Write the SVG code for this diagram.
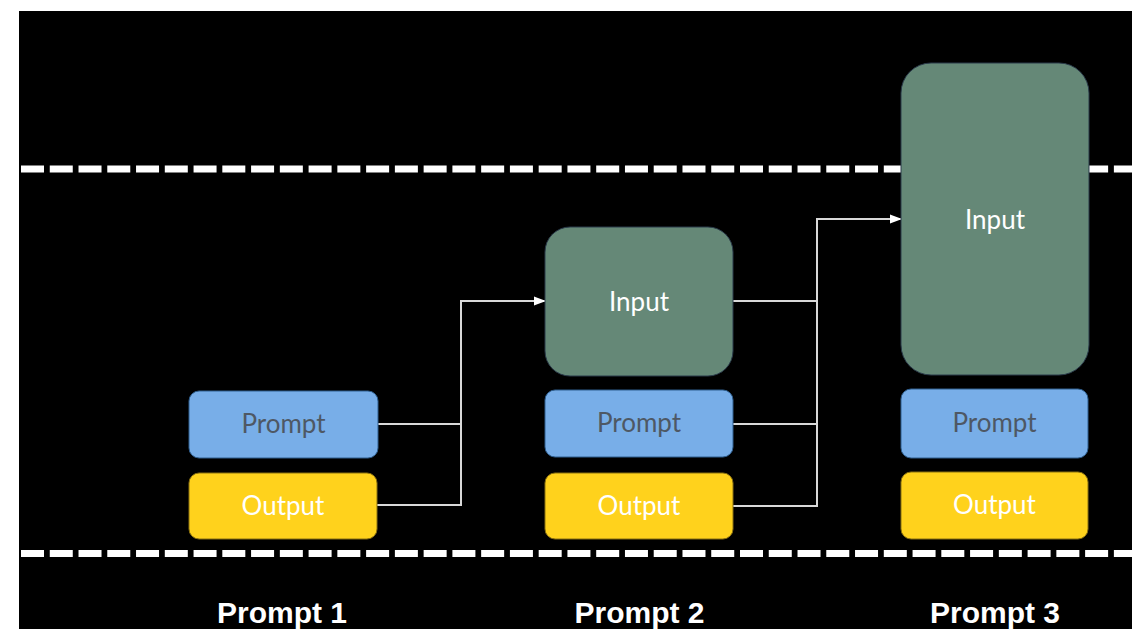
<svg xmlns="http://www.w3.org/2000/svg" width="1132" height="629" viewBox="0 0 1132 629">
<style>
.bg{fill:#000}
.dash{stroke:#fff;stroke-width:7;stroke-dasharray:23 5.76;fill:none}
.inp{fill:#658877;stroke:#2a3a4a;stroke-width:1}
.pr{fill:#78aee8;stroke:#2f5f8f;stroke-width:1}
.out{fill:#ffd21c;stroke:#8a7010;stroke-width:1}
.t{font-family:Lato,"Open Sans",sans-serif;font-size:26px;text-anchor:middle}
.tw{fill:#fff}
.tp{fill:#4e5864}
.lbl{font-family:"Liberation Sans",Arial,sans-serif;font-weight:bold;font-size:30px;fill:#fff;text-anchor:middle}
.conn{stroke:#d9d9d9;stroke-width:2;fill:none}
</style>
<defs>
<marker id="arr" markerWidth="12" markerHeight="12" refX="11" refY="6" orient="auto" markerUnits="userSpaceOnUse">
<path d="M0,1.5 L12,6 L0,10.5 Z" fill="#fff"/>
</marker>
</defs>
<rect x="0" y="0" width="1132" height="629" fill="#fff"/>
<rect class="bg" x="19" y="11" width="1113" height="618"/>
<g id="dashes">
<line class="dash" x1="21" y1="169" x2="1132" y2="169"/>
<line class="dash" x1="21" y1="553.5" x2="1132" y2="553.5"/>
</g>
<g id="connectors">
<path class="conn" d="M378,424 H461"/>
<path class="conn" d="M377,505 H461 V301 H545" marker-end="url(#arr)"/>
<path class="conn" d="M733,301 H817"/>
<path class="conn" d="M733,424 H817"/>
<path class="conn" d="M733,506 H817 V219 H901" marker-end="url(#arr)"/>
</g>
<g id="prompt1">
<rect class="pr" x="189" y="391" width="189" height="67" rx="10"/>
<text class="t tp" x="283.5" y="433">Prompt</text>
</g>
<g id="output1">
<rect class="out" x="189" y="473" width="188" height="66" rx="10"/>
<text class="t tw" x="283" y="515">Output</text>
</g>
<g id="input2">
<rect class="inp" x="545" y="227" width="188" height="149" rx="25"/>
<text class="t tw" x="639" y="311">Input</text>
</g>
<g id="prompt2">
<rect class="pr" x="545" y="390" width="188" height="67" rx="10"/>
<text class="t tp" x="639" y="432">Prompt</text>
</g>
<g id="output2">
<rect class="out" x="545" y="473" width="188" height="66" rx="10"/>
<text class="t tw" x="639" y="515">Output</text>
</g>
<g id="input3">
<rect class="inp" x="901" y="63" width="188" height="312" rx="30"/>
<text class="t tw" x="995" y="229">Input</text>
</g>
<g id="prompt3">
<rect class="pr" x="901" y="389" width="187" height="69" rx="10"/>
<text class="t tp" x="994.5" y="432">Prompt</text>
</g>
<g id="output3">
<rect class="out" x="901" y="472" width="187" height="67" rx="10"/>
<text class="t tw" x="994.5" y="514">Output</text>
</g>
<g id="labels">
<text class="lbl" x="282" y="623">Prompt 1</text>
<text class="lbl" x="639.5" y="623">Prompt 2</text>
<text class="lbl" x="995" y="623">Prompt 3</text>
</g>
</svg>
